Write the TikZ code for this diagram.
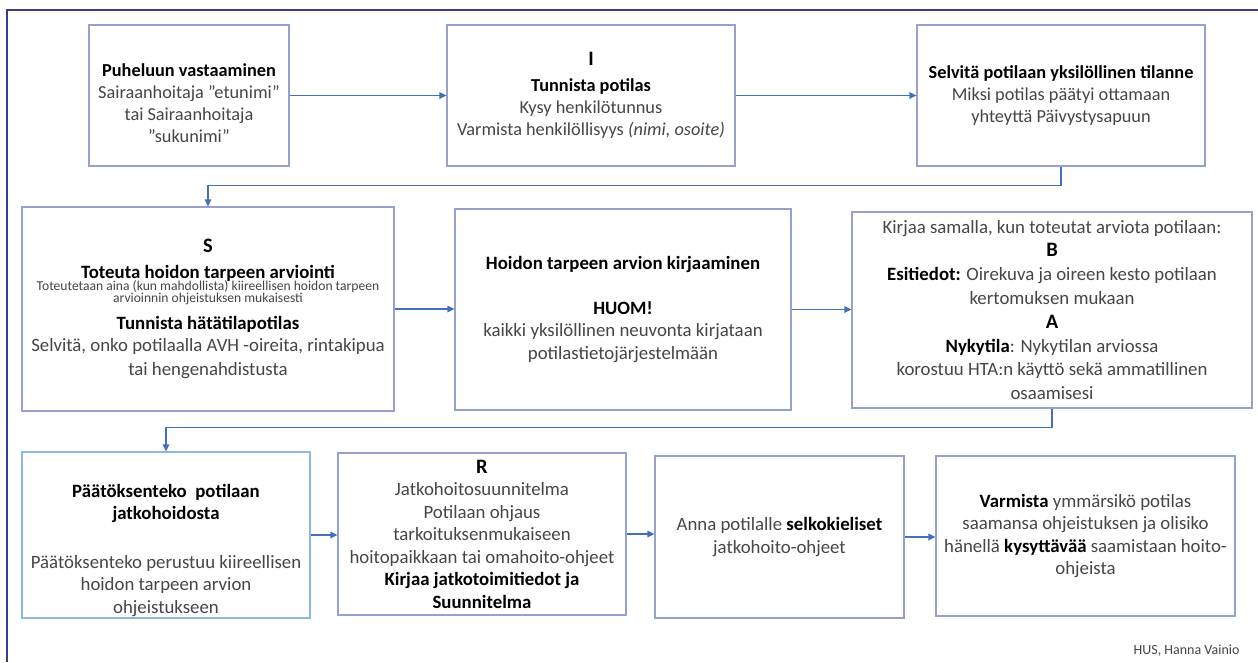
\documentclass[tikz,border=0pt]{standalone}
\usepackage{fontspec}
\setmainfont{Carlito}
\usetikzlibrary{arrows.meta}
\definecolor{boxc}{RGB}{150,162,205}
\definecolor{boxlight}{RGB}{140,185,225}
\definecolor{arrc}{RGB}{68,110,190}
\definecolor{framec}{RGB}{60,60,140}
\definecolor{txt}{RGB}{70,70,70}
\newcommand\bk[1]{\textbf{\color{black}#1}}
\newcommand\smtxt[1]{{\fontsize{13.6}{12}\selectfont #1}}
\newcommand\bigltr[1]{{\fontsize{20.5}{22}\selectfont\bfseries\color{black}#1}}
\tikzset{
  box/.style={draw=boxc, line width=1.2pt, fill=white, align=center, text=txt, inner sep=0pt},
  txtnode/.style={align=center, text=txt, inner sep=0pt},
  conn/.style={draw=arrc, line width=1.2pt, -{Triangle[length=7pt,width=6.5pt]}},
  rowA/.style={font=\fontsize{18.3}{22}\selectfont},
  rowB/.style={font=\fontsize{18.8}{22.5}\selectfont},
}
\begin{document}
\begin{tikzpicture}[x=1pt,y=-1pt]
\useasboundingbox (0,0) rectangle (1258,662);
\fill[white] (0,0) rectangle (1258,662);
\draw[framec, line width=1.6pt] (7,662) -- (7,10) -- (1258,10);

% Row 1
\node[box, minimum width=200, minimum height=141] (b1) at (189,95.5) {};
\node[txtnode, rowA] (t1) at (189,103)
 {\bk{Puheluun vastaaminen}\\Sairaanhoitaja ”etunimi”\\tai Sairaanhoitaja\\”sukunimi”};
\node[box, rowA, minimum width=288, minimum height=141] (b2) at (591,95.5)
 {\bigltr{I}\\[4pt]\bk{Tunnista potilas}\\Kysy henkilötunnus\\Varmista henkilöllisyys \textit{(nimi, osoite)}};
\node[box, rowA, minimum width=288, minimum height=141] (b3) at (1061,95.5)
 {\bk{Selvitä potilaan yksilöllinen tilanne}\\Miksi potilas päätyi ottamaan\\yhteyttä Päivystysapuun};

% Row 2
\node[box, rowB, minimum width=372, minimum height=204] (b4) at (208,309)
 {\bigltr{S}\\[3pt]\bk{Toteuta hoidon tarpeen arviointi}\\[-10pt]\smtxt{Toteutetaan aina (kun mahdollista) kiireellisen hoidon tarpeen}\\[-11pt]\smtxt{arvioinnin ohjeistuksen mukaisesti}\\[5pt]\bk{Tunnista hätätilapotilas}\\[-1pt]Selvitä, onko potilaalla AVH -oireita, rintakipua\\[2pt]tai hengenahdistusta};
\node[box, rowB, minimum width=336, minimum height=201] (b5) at (623,309.5)
 {\bk{Hoidon tarpeen arvion kirjaaminen}\\[22pt]\bk{HUOM!}\\kaikki yksilöllinen neuvonta kirjataan\\potilastietojärjestelmään};
\node[box, font=\fontsize{18.8}{23.8}\selectfont, minimum width=400, minimum height=196] (b6) at (1052,310)
 {Kirjaa samalla, kun toteutat arviota potilaan:\\\bigltr{B}\\\bk{Esitiedot:} Oirekuva ja oireen kesto potilaan\\kertomuksen mukaan\\\bigltr{A}\\\bk{Nykytila}: Nykytilan arviossa\\korostuu HTA:n käyttö sekä ammatillinen\\osaamisesi};

% Row 3
\node[box, draw=boxlight, minimum width=288, minimum height=166] (b7) at (166,535) {};
\node[txtnode, rowB] (t7) at (166,550)
 {\bk{Päätöksenteko\ \ potilaan}\\\bk{jatkohoidosta}\\[26pt]Päätöksenteko perustuu kiireellisen\\hoidon tarpeen arvion\\ohjeistukseen};
\node[box, rowB, minimum width=288, minimum height=162] (b8) at (482,534)
 {\bigltr{R}\\Jatkohoitosuunnitelma\\Potilaan ohjaus\\tarkoituksenmukaiseen\\hoitopaikkaan tai omahoito-ohjeet\\\bk{Kirjaa jatkotoimitiedot ja}\\\bk{Suunnitelma}};
\node[box, rowB, minimum width=249, minimum height=162] (b9) at (779.5,537)
 {Anna potilalle \bk{selkokieliset}\\jatkohoito-ohjeet};
\node[box, rowB, minimum width=299, minimum height=160] (b10) at (1085.5,536)
 {\bk{Varmista} ymmärsikö potilas\\saamansa ohjeistuksen ja olisiko\\hänellä \bk{kysyttävää} saamistaan hoito-\\ohjeista};

\node[text=txt, font=\fontsize{14}{16}\selectfont, anchor=east] (foot) at (1243,651) {HUS, Hanna Vainio};

% Connectors
\draw[conn] (b1.east) -- (b2.west);
\draw[conn] (b2.east) -- (b3.west);
\draw[conn] (b3.south) -- ++(0,19) -| (b4.north);
\draw[conn] (b4.east) -- (b4.east -| b5.west);
\draw[conn] (b5.east) -- (b5.east -| b6.west);
\draw[conn] (b6.south) -- ++(0,19) -| (b7.north);
\draw[conn] (b7.east) -- (b7.east -| b8.west);
\draw[conn] (b8.east) -- (b8.east -| b9.west);
\draw[conn] (b9.east) -- (b9.east -| b10.west);
\end{tikzpicture}
\end{document}
